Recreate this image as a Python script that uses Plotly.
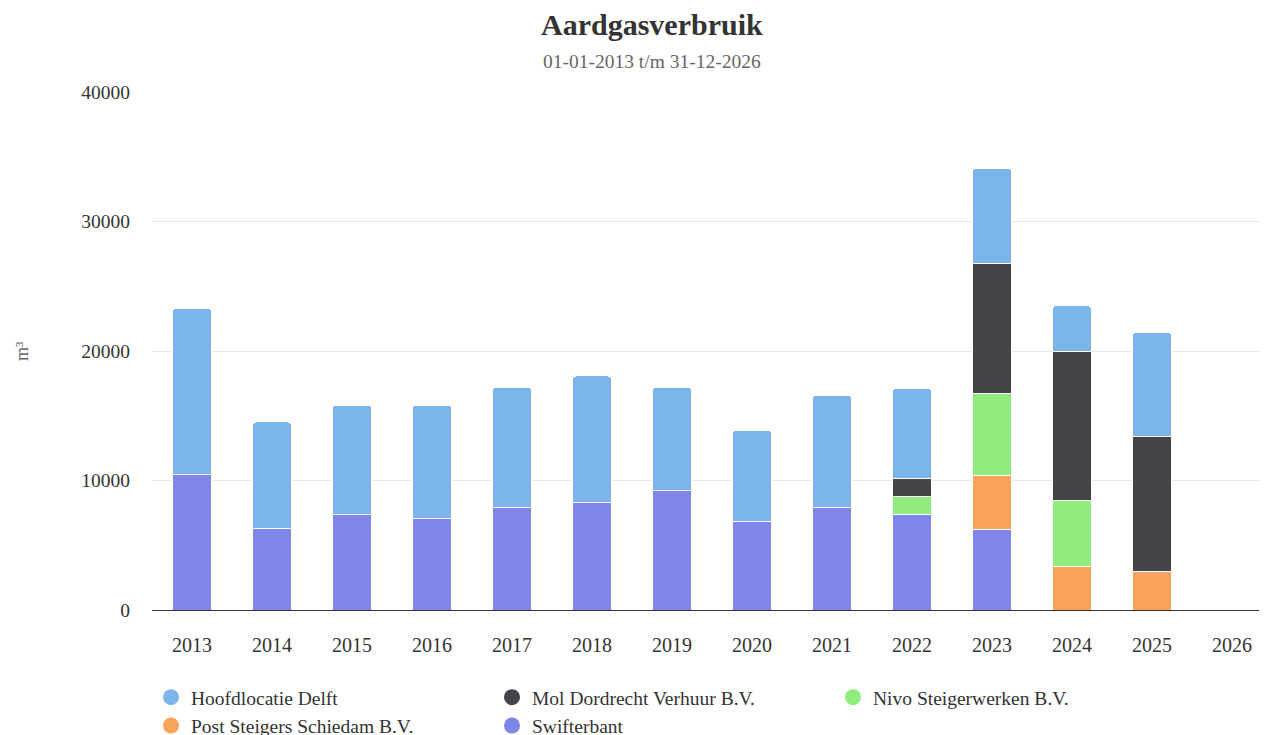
import plotly.graph_objects as go

years = ["2013", "2014", "2015", "2016", "2017", "2018", "2019", "2020", "2021", "2022", "2023", "2024", "2025", "2026"]
swifterbant = [10500, 6330, 7410, 7030, 7950, 8340, 9190, 6800, 7950, 7390, 6200, 0, 0, 0]
post_steigers = [0, 0, 0, 0, 0, 0, 0, 0, 0, 0, 4170, 3340, 2990, 0]
nivo = [0, 0, 0, 0, 0, 0, 0, 0, 0, 1340, 6330, 5150, 0, 0]
mol = [0, 0, 0, 0, 0, 0, 0, 0, 0, 1410, 10040, 11460, 10390, 0]
hoofdlocatie = [12820, 8190, 8420, 8800, 9270, 9730, 8030, 7100, 8650, 6980, 7370, 3550, 8060, 0]

series = [
    ("Swifterbant", swifterbant, "#8085e9", 5),
    ("Post Steigers Schiedam B.V.", post_steigers, "#f7a35c", 4),
    ("Nivo Steigerwerken B.V.", nivo, "#90ed7d", 3),
    ("Mol Dordrecht Verhuur B.V.", mol, "#434348", 2),
    ("Hoofdlocatie Delft", hoofdlocatie, "#7cb5ec", 1),
]

FONT = "Liberation Serif, Times New Roman, serif"
W, H = 1267, 735
ML, MR, MT, MB = 144, 3, 84, 133
PW, PH = W - ML - MR, H - MT - MB

fig = go.Figure()
for name, vals, color, rank in series:
    fig.add_trace(go.Bar(
        x=years, y=vals, name=name, legendgroup=name, showlegend=False,
        marker=dict(color=color, line=dict(color="white", width=1)),
    ))
for name, vals, color, rank in series:
    fig.add_trace(go.Scatter(
        x=[None], y=[None], mode="markers", name=name, legendgroup=name,
        legendrank=rank, marker=dict(symbol="circle", size=18, color=color),
    ))

fig.update_layout(
    width=W, height=H,
    barmode="stack", bargap=0.52, barcornerradius=3,
    plot_bgcolor="white", paper_bgcolor="white",
    font=dict(family=FONT, size=19, color="#333333"),
    margin=dict(l=ML, r=MR, t=MT, b=MB, autoexpand=False),
    showlegend=True,
    legend=dict(
        orientation="h", xref="container", yref="container",
        x=143 / W, xanchor="left", y=1 - 670 / H, yanchor="top",
        entrywidth=296, entrywidthmode="pixels",
        font=dict(family=FONT, size=19.5, color="#333333"),
        itemsizing="trace", tracegroupgap=0, bgcolor="rgba(0,0,0,0)",
    ),
)

def px_x(pix):
    return (pix - ML) / PW
def px_y(pix):
    return (H - MB - pix) / PH

fig.add_annotation(text="<b>Aardgasverbruik</b>", xref="paper", yref="paper",
                   x=px_x(644), y=px_y(17), xanchor="center", yanchor="middle",
                   font=dict(family=FONT, size=30, color="#333333"), showarrow=False)
fig.add_annotation(text="01-01-2013 t/m 31-12-2026", xref="paper", yref="paper",
                   x=px_x(644), y=px_y(53), xanchor="center", yanchor="middle",
                   font=dict(family=FONT, size=19.5, color="#666666"), showarrow=False)
fig.add_annotation(text="m³", xref="paper", yref="paper",
                   x=px_x(14), y=px_y(343), xanchor="center", yanchor="middle",
                   textangle=-90, font=dict(family=FONT, size=18, color="#666666"), showarrow=False)

fig.update_xaxes(
    type="category", showgrid=False, showline=True, linecolor="#333333", linewidth=1,
    ticks="outside", ticklen=17, tickcolor="rgba(0,0,0,0)", automargin=False,
    tickfont=dict(family=FONT, size=20, color="#333333"),
)
fig.update_yaxes(
    range=[0, 40000], dtick=10000, showgrid=True, gridcolor="#e6e6e6", gridwidth=1,
    zeroline=False, showline=False, ticks="outside", ticklen=17, tickcolor="rgba(0,0,0,0)",
    automargin=False,
    tickfont=dict(family=FONT, size=19.5, color="#333333"), tickformat="d",
)

fig.write_html("out.html")
